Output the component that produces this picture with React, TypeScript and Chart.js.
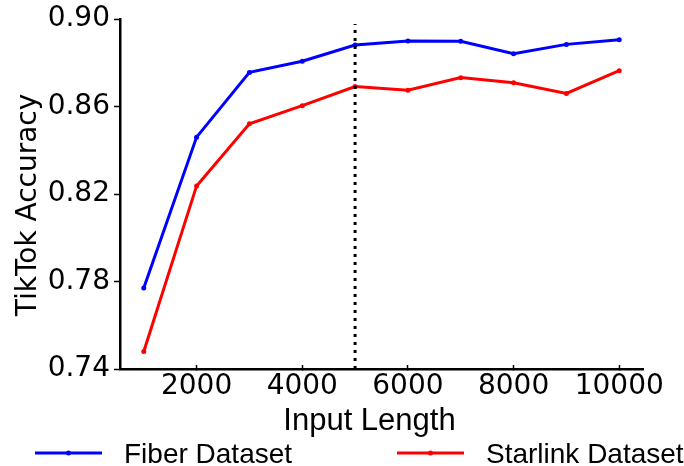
import { useEffect, useRef } from "react";
import { Chart, registerables } from "chart.js";

Chart.register(...registerables);

// ---- Data ----
const INPUT_LENGTHS = [1000, 2000, 3000, 4000, 5000, 6000, 7000, 8000, 9000, 10000];
const FIBER_ACC = [0.777, 0.846, 0.8756, 0.8807, 0.8881, 0.8899, 0.8898, 0.8841, 0.8884, 0.8905];
const STARLINK_ACC = [0.748, 0.8237, 0.8521, 0.8604, 0.8691, 0.8674, 0.8732, 0.8709, 0.866, 0.8764];
const SERIES_NAMES = ["Fiber Dataset", "Starlink Dataset"];
const SERIES_COLORS = ["#0000ff", "#ff0000"];
const X_TICKS = [2000, 4000, 6000, 8000, 10000];
const Y_TICKS = [0.74, 0.78, 0.82, 0.86, 0.9];
const X_RANGE = [550, 10450];
const Y_RANGE = [0.74, 0.9];
const CUTOFF_X = 5000;
const CUTOFF_Y = [0.74, 0.8977];
const X_TITLE = "Input Length";
const Y_TITLE = "TikTok Accuracy";

const TICK_FONT = { family: "'DejaVu Sans'", size: 28 };

const textPlugin = {
  id: "titlesAndLegend",
  afterDraw(chart: any) {
    const ctx = chart.ctx as CanvasRenderingContext2D;
    ctx.save();
    ctx.fillStyle = "#000";
    // x title
    ctx.font = "31px 'Liberation Sans'";
    ctx.textAlign = "center";
    ctx.textBaseline = "alphabetic";
    ctx.fillText(X_TITLE, 369.5, 430);
    // y title
    ctx.save();
    ctx.translate(36, 205);
    ctx.rotate(-Math.PI / 2);
    ctx.font = "28px 'DejaVu Sans'";
    ctx.fillText(Y_TITLE, 0, 0);
    ctx.restore();
    // legend
    const legendX = [35, 397];
    const ly = 453;
    for (let i = 0; i < 2; i++) {
      const ds = chart.data.datasets[i];
      const x0 = legendX[i];
      ctx.strokeStyle = ds.borderColor;
      ctx.lineWidth = 3;
      ctx.beginPath();
      ctx.moveTo(x0, ly);
      ctx.lineTo(x0 + 67, ly);
      ctx.stroke();
      ctx.fillStyle = ds.borderColor;
      ctx.beginPath();
      ctx.arc(x0 + 33.5, ly, 2.5, 0, Math.PI * 2);
      ctx.fill();
      ctx.fillStyle = "#000";
      ctx.font = "28px 'Liberation Sans'";
      ctx.textAlign = "left";
      ctx.textBaseline = "alphabetic";
      ctx.fillText(ds.label, x0 + 89, 463);
    }
    ctx.restore();
  },
};

export default function App() {
  const ref = useRef<HTMLCanvasElement>(null);
  useEffect(() => {
    const series = [FIBER_ACC, STARLINK_ACC];
    const chart = new Chart(ref.current!, {
      type: "line",
      data: {
        datasets: [
          ...series.map((vals, si) => ({
            label: SERIES_NAMES[si],
            data: INPUT_LENGTHS.map((x, i) => ({ x, y: vals[i] })),
            borderColor: SERIES_COLORS[si],
            backgroundColor: SERIES_COLORS[si],
            pointBackgroundColor: SERIES_COLORS[si],
            borderWidth: 3,
            pointRadius: 2.5,
            pointBorderWidth: 0,
            tension: 0,
            order: si + 1,
          })),
          {
            label: "cutoff",
            data: CUTOFF_Y.map((y) => ({ x: CUTOFF_X, y })),
            borderColor: "#000",
            borderWidth: 3,
            borderDash: [3, 5],
            pointRadius: 0,
            order: -1,
          },
        ],
      },
      options: {
        animation: false,
        responsive: false,
        devicePixelRatio: 1,
        layout: { padding: { top: 19, right: 41, bottom: 0, left: 0 } },
        plugins: { legend: { display: false }, tooltip: { enabled: false } },
        scales: {
          x: {
            type: "linear",
            min: X_RANGE[0],
            max: X_RANGE[1],
            afterBuildTicks: (s: any) => {
              s.ticks = X_TICKS.map((v) => ({ value: v }));
            },
            afterFit: (s: any) => {
              s.height = 97;
              s.paddingLeft = 0;
              s.paddingRight = 0;
            },
            ticks: {
              font: TICK_FONT,
              color: "#000",
              padding: 5,
              autoSkip: false,
              maxRotation: 0,
              callback: (v: any) => String(v),
            },
            grid: {
              display: true,
              drawOnChartArea: false,
              drawTicks: true,
              tickLength: -4,
              tickWidth: 1.5,
              tickColor: "#000",
            },
            border: { display: true, color: "#000", width: 2.5 },
          },
          y: {
            type: "linear",
            min: Y_RANGE[0],
            max: Y_RANGE[1],
            afterBuildTicks: (s: any) => {
              s.ticks = Y_TICKS.map((v) => ({ value: v }));
            },
            afterFit: (s: any) => {
              s.width = 120;
              s.paddingTop = 0;
              s.paddingBottom = 0;
            },
            ticks: {
              font: TICK_FONT,
              color: "#000",
              padding: 4,
              autoSkip: false,
              callback: (v: any) => Number(v).toFixed(2),
            },
            grid: {
              display: true,
              drawOnChartArea: false,
              drawTicks: true,
              tickLength: 6,
              tickWidth: 1.5,
              tickColor: "#000",
            },
            border: { display: true, color: "#000", width: 2.5 },
          },
        },
      } as any,
      plugins: [textPlugin],
    });
    return () => chart.destroy();
  }, []);
  return (
    <div style={{ position: "fixed", left: 0, top: 0, width: 684, height: 466, background: "#fff" }}>
      <canvas ref={ref} width={684} height={466} style={{ display: "block" }} />
    </div>
  );
}
